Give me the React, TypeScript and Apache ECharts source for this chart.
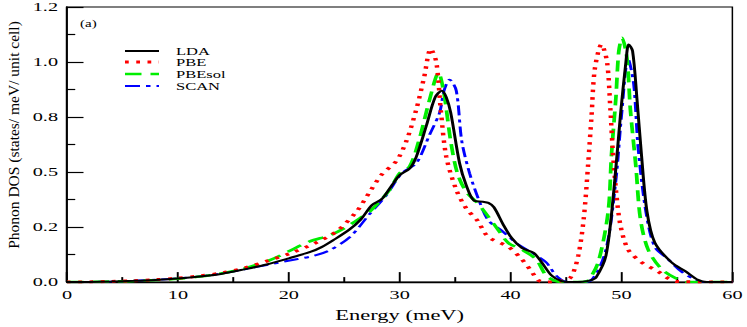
import React, { useEffect, useRef } from "react";
import * as echarts from "echarts";

// ---- data (Energy in meV, DOS in states/meV/unit cell) ----
const seriesNames = ["LDA", "PBE", "PBEsol", "SCAN"];
const seriesColors = ["#000000", "#ff0000", "#00ee00", "#0000ff"];

const ldaData: number[][] = [
  [0, 0], [2, 0.001], [4, 0.003], [6, 0.006], [8, 0.01], [10, 0.016], [12, 0.025], [14, 0.038],
  [16, 0.058], [18, 0.08], [20, 0.108], [22, 0.138], [23, 0.16], [24, 0.19], [25.5, 0.24],
  [26.5, 0.285], [27.5, 0.35], [28.4, 0.378], [29.3, 0.44], [30, 0.486], [30.9, 0.516],
  [31.5, 0.57], [32.4, 0.71], [33.2, 0.84], [33.8, 0.87], [34.2, 0.84], [34.6, 0.77],
  [35.4, 0.54], [36, 0.44], [36.7, 0.37], [37.5, 0.365], [38, 0.36], [38.5, 0.34],
  [39.3, 0.265], [40.1, 0.2], [41, 0.156], [42.1, 0.132], [42.8, 0.09], [43.7, 0.03],
  [44.6, 0.004], [45.5, 0], [46.5, 0.002], [47.2, 0.008], [47.7, 0.02], [48.6, 0.12],
  [49.3, 0.41], [49.9, 0.755], [50.4, 1.0], [50.65, 1.08], [51, 1.05], [51.4, 0.83],
  [51.8, 0.58], [52.3, 0.32], [53, 0.18], [54.5, 0.09], [55.8, 0.048], [56.9, 0.01],
  [57.7, 0], [60, 0],
];

const pbeData: number[][] = [
  [0, 0], [2, 0.001], [4, 0.003], [6, 0.006], [8, 0.011], [10, 0.018], [12, 0.028], [14, 0.042],
  [16, 0.064], [18, 0.095], [20.1, 0.13], [22.5, 0.18], [24.3, 0.23], [26.1, 0.32],
  [27.3, 0.41], [28.4, 0.49], [29.7, 0.55], [30.6, 0.64], [31.5, 0.785], [32.2, 0.93],
  [32.8, 1.06], [33.3, 1.0], [33.7, 0.785], [34.2, 0.57], [35.1, 0.42], [36, 0.335],
  [37, 0.28], [38, 0.205], [39.8, 0.16], [41, 0.104], [41.9, 0.048], [42.5, 0.008],
  [43.2, 0], [44.5, 0.005], [45.4, 0.02], [46.1, 0.12], [46.6, 0.29], [47, 0.54],
  [47.3, 0.755], [47.6, 0.97], [48.2, 1.08], [48.7, 1.0], [49, 0.785], [49.2, 0.61],
  [49.5, 0.42], [49.9, 0.26], [50.6, 0.148], [51.8, 0.09], [53.3, 0.048], [54.2, 0.017],
  [55, 0.003], [60, 0],
];

const pbesolData: number[][] = [
  [0, 0], [2, 0.001], [4, 0.003], [6, 0.005], [8, 0.009], [10, 0.015], [12, 0.025], [14, 0.04],
  [16, 0.062], [18.3, 0.1], [20, 0.14], [21.9, 0.185], [23.7, 0.213], [25, 0.245],
  [26.4, 0.29], [27.5, 0.33], [29.1, 0.42], [30, 0.495], [30.9, 0.525], [31.8, 0.655],
  [32.7, 0.83], [33.5, 0.95], [34, 0.855], [34.6, 0.64], [35.2, 0.495], [36, 0.41],
  [36.9, 0.365], [37.5, 0.33], [38.7, 0.25], [39.8, 0.178], [41, 0.148], [42.3, 0.104],
  [43.2, 0.03], [44.1, 0.004], [45, 0], [46.5, 0.001], [47, 0.008], [47.9, 0.09],
  [48.8, 0.32], [49.1, 0.58], [49.5, 0.84], [49.75, 1.045], [50.05, 1.11], [50.5, 1.015],
  [50.8, 0.785], [51.3, 0.525], [51.7, 0.29], [52.4, 0.148], [53.6, 0.06], [54.9, 0.017],
  [56, 0], [60, 0],
];

const scanData: number[][] = [
  [0, 0], [2, 0.001], [4, 0.003], [6, 0.006], [8, 0.011], [10, 0.017], [12, 0.026], [14, 0.04],
  [16, 0.058], [18, 0.078], [20.7, 0.104], [22.3, 0.12], [23.7, 0.145], [25.5, 0.204],
  [27.3, 0.31], [28.8, 0.395], [30.2, 0.495], [31.5, 0.54], [32.7, 0.67], [33.6, 0.77],
  [34, 0.87], [34.5, 0.92], [35.1, 0.87], [35.6, 0.64], [36.3, 0.495], [37.1, 0.378],
  [38, 0.28], [39.2, 0.234], [40.5, 0.178], [41.9, 0.134], [43.2, 0.09], [44.1, 0.03],
  [45, 0.002], [46, 0], [47.3, 0.01], [48.6, 0.148], [49.5, 0.465], [50, 0.755],
  [50.6, 1.015], [51.1, 0.9], [51.5, 0.61], [52.2, 0.32], [53, 0.16], [54.2, 0.104],
  [55.4, 0.048], [56.7, 0.01], [57.5, 0], [60, 0],
];

const seriesData = [ldaData, pbeData, pbesolData, scanData];

const yTickValues = [0, 0.25, 0.5, 0.75, 1.0, 1.25];
const yTickLabels = ["0.0", "0.2", "0.5", "0.8", "1.0", "1.2"];

const xAxisTitle = "Energy (meV)";
const yAxisTitle = "Phonon DOS (states/ meV/ unit cell)";
const panelLabel = "(a)";

// ---- layout: the reference is horizontally stretched, so draw narrow and scale ----
const STRETCH = 1.5;
const PAGE_W = 747;
const PAGE_H = 327;
const BASE_W = PAGE_W / STRETCH;
const px = (pageX: number) => pageX / STRETCH;

const FONT = "'Liberation Serif', 'Times New Roman', serif";

const lineStyles = [
  { width: 2, type: "solid" as any },
  { width: 3, type: [2.5, 5] as any },
  { width: 2.5, type: [11, 6] as any },
  { width: 2, type: [10, 4, 3, 4] as any },
];

export default function App() {
  const ref = useRef<HTMLDivElement>(null);

  useEffect(() => {
    if (!ref.current) return;
    const chart = echarts.init(ref.current, null, { renderer: "svg" });

    const legendRowsY = [51, 62, 74, 86];
    const legendGraphics: any[] = [];
    seriesNames.forEach((name, i) => {
      legendGraphics.push({
        type: "line",
        shape: { x1: px(125), y1: legendRowsY[i], x2: px(159), y2: legendRowsY[i] },
        style: {
          stroke: seriesColors[i],
          lineWidth: lineStyles[i].width,
          lineDash: Array.isArray(lineStyles[i].type) ? lineStyles[i].type : null,
        },
        silent: true,
      });
      legendGraphics.push({
        type: "text",
        x: px(176),
        y: legendRowsY[i],
        style: {
          text: name,
          font: `11px ${FONT}`,
          fill: "#000",
          align: "left",
          verticalAlign: "middle",
        },
        silent: true,
      });
    });

    const option: any = {
      animation: false,
      backgroundColor: "#ffffff",
      grid: {
        left: px(67),
        right: BASE_W - px(734),
        top: 6,
        bottom: PAGE_H - 294,
        show: true,
        borderColor: "#000",
        borderWidth: 1,
        backgroundColor: "transparent",
      },
      xAxis: {
        type: "value",
        min: 0,
        max: 60,
        interval: 10,
        name: xAxisTitle,
        nameLocation: "middle",
        nameGap: 11,
        nameTextStyle: { fontFamily: FONT, fontSize: 15, color: "#000", verticalAlign: "top" },
        axisLine: { show: true, onZero: false, lineStyle: { color: "#000", width: 1.3 } },
        axisTick: { show: true, inside: true, length: 10, lineStyle: { color: "#000", width: 1.3 } },
        minorTick: { show: true, splitNumber: 2, length: 5, lineStyle: { color: "#000", width: 1.3 } },
        axisLabel: { fontFamily: FONT, fontSize: 13.5, color: "#000", margin: 6 },
        splitLine: { show: false },
      },
      yAxis: {
        type: "value",
        min: 0,
        max: 1.25,
        interval: 0.25,
        axisLine: { show: true, onZero: false, lineStyle: { color: "#000", width: 1.3 } },
        axisTick: { show: true, inside: true, length: 11, lineStyle: { color: "#000", width: 1.2 } },
        minorTick: { show: true, splitNumber: 2, length: 5.5, lineStyle: { color: "#000", width: 1.2 } },
        axisLabel: {
          fontFamily: FONT,
          fontSize: 13.5,
          color: "#000",
          margin: 6,
          formatter: (v: number) => {
            const idx = yTickValues.findIndex((t) => Math.abs(t - v) < 1e-6);
            return idx >= 0 ? yTickLabels[idx] : "";
          },
        },
        splitLine: { show: false },
      },
      graphic: [
        {
          type: "text",
          x: px(13),
          y: 135,
          rotation: Math.PI / 2,
          scaleY: 1 / STRETCH,
          style: {
            text: yAxisTitle,
            font: `15.5px ${FONT}`,
            fill: "#000",
            align: "center",
            verticalAlign: "middle",
          },
          silent: true,
        },
        {
          type: "text",
          x: px(80),
          y: 24,
          style: {
            text: panelLabel,
            font: `10px ${FONT}`,
            fill: "#000",
            align: "left",
            verticalAlign: "middle",
          },
          silent: true,
        },
        ...legendGraphics,
      ],
      series: seriesNames.map((name, i) => ({
        name,
        type: "line",
        data: seriesData[i],
        showSymbol: false,
        smooth: 0.3,
        clip: true,
        lineStyle: {
          color: seriesColors[i],
          width: lineStyles[i].width,
          type: lineStyles[i].type,
          cap: "butt",
        },
        z: 10 - i,
      })),
    };

    chart.setOption(option);
    return () => chart.dispose();
  }, []);

  return (
    <div
      style={{
        position: "fixed",
        left: 0,
        top: 0,
        width: PAGE_W,
        height: PAGE_H,
        overflow: "hidden",
        background: "#fff",
      }}
    >
      <div
        ref={ref}
        style={{
          width: BASE_W,
          height: PAGE_H,
          transform: `scaleX(${STRETCH})`,
          transformOrigin: "0 0",
        }}
      />
    </div>
  );
}
